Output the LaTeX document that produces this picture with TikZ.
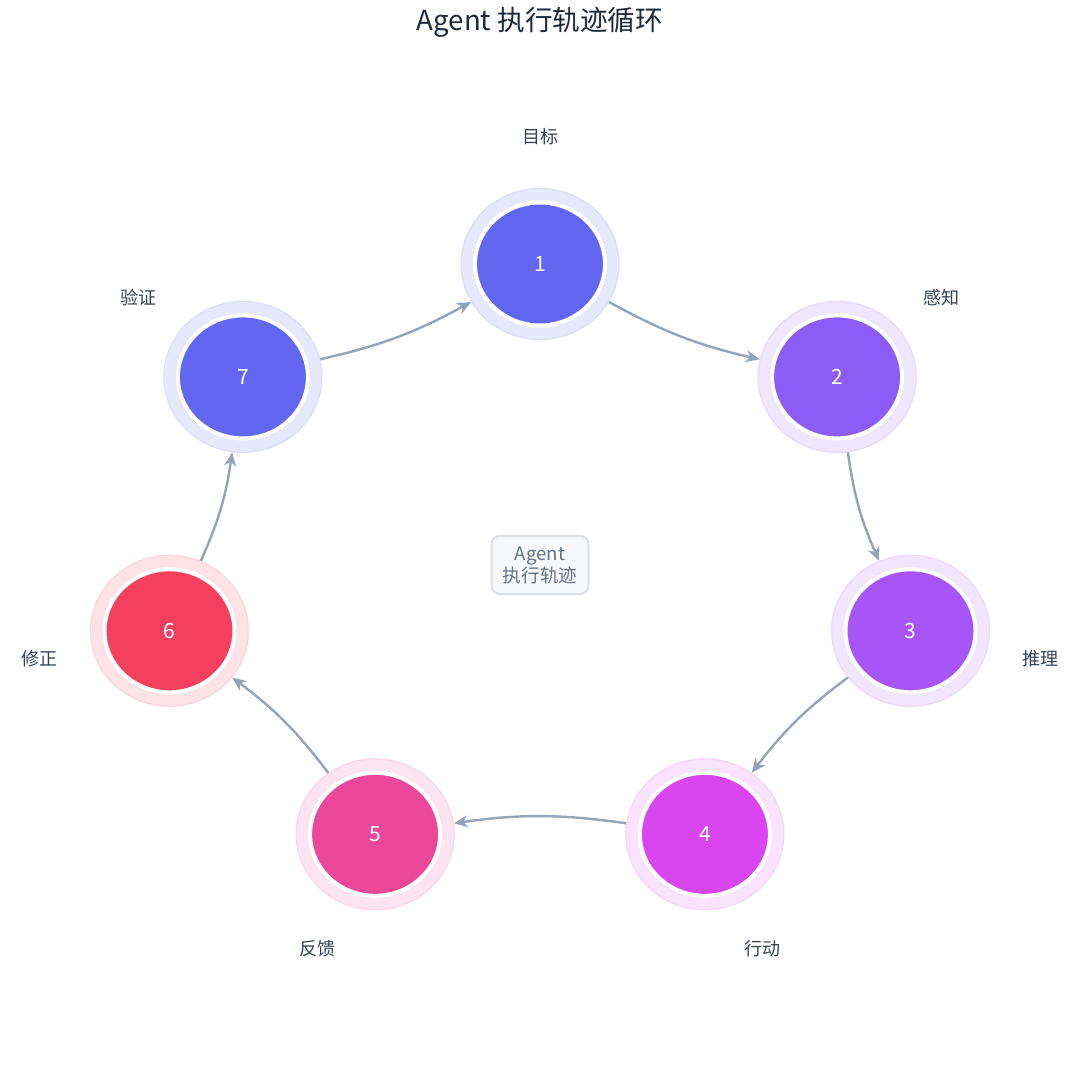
\documentclass[tikz,border=0pt]{standalone}
\usepackage{fontspec}
\setmainfont{Noto Sans CJK SC}
\usetikzlibrary{arrows.meta,shapes.geometric}
\definecolor{cIndigo}{HTML}{6366F1}
\definecolor{cViolet}{HTML}{8B5CF6}
\definecolor{cPurple}{HTML}{A855F7}
\definecolor{cFuchsia}{HTML}{D946EF}
\definecolor{cPink}{HTML}{EC4899}
\definecolor{cRose}{HTML}{F43F5E}
\definecolor{cArrow}{HTML}{94A3B8}
\definecolor{cText}{HTML}{334155}
\definecolor{cTitle}{HTML}{1E293B}
\definecolor{cCore}{HTML}{64748B}
\begin{document}
\begin{tikzpicture}
[x=0.5pt, y=-0.5pt, font=\fontsize{9}{11}\selectfont]
\tikzstyle{halo}=[ellipse, line width=0.6pt, inner sep=0pt, minimum width=79pt, minimum height=75.5pt]
\tikzstyle{stage}=[ellipse, draw=white, line width=2pt, inner sep=0pt, minimum width=65pt, minimum height=61.5pt, text=white, font=\fontsize{10.5}{12}\selectfont]
\tikzstyle{tag}=[text=cText, font=\fontsize{9}{11}\selectfont]
\tikzstyle{flow}=[draw=cArrow, line width=1.2pt, -{Stealth[length=7pt,width=6pt]}]
\useasboundingbox (0,0) rectangle (1080,1080);

\node[text=cTitle, font=\fontsize{13.8}{16}\selectfont] (T) at (540,22) {Agent 执行轨迹循环};

\node[halo, fill=cIndigo!15, draw=cIndigo!22]	(H1) at (540,264) {};
\node[halo, fill=cViolet!15, draw=cViolet!22]	(H2) at (837.1,376.9) {};
\node[halo, fill=cPurple!15, draw=cPurple!22]	(H3) at (910.5,630.8) {};
\node[halo, fill=cFuchsia!15, draw=cFuchsia!22]	(H4) at (704.9,834.3) {};
\node[halo, fill=cPink!15, draw=cPink!22]	(H5) at (375.1,834.3) {};
\node[halo, fill=cRose!15, draw=cRose!22]	(H6) at (169.5,630.8) {};
\node[halo, fill=cIndigo!15, draw=cIndigo!22]	(H7) at (242.9,376.9) {};

\node[stage, fill=cIndigo]	(N1) at (H1) {1};
\node[stage, fill=cViolet]	(N2) at (H2) {2};
\node[stage, fill=cPurple]	(N3) at (H3) {3};
\node[stage, fill=cFuchsia]	(N4) at (H4) {4};
\node[stage, fill=cPink]	(N5) at (H5) {5};
\node[stage, fill=cRose]	(N6) at (H6) {6};
\node[stage, fill=cIndigo]	(N7) at (H7) {7};

\node[tag]	(L1) at (540,137) {目标};
\node[tag]	(L2) at (941.1,297.8) {感知};
\node[tag]	(L3) at (1040.1,659) {推理};
\node[tag]	(L4) at (762.6,948.7) {行动};
\node[tag]	(L5) at (317.4,948.7) {反馈};
\node[tag]	(L6) at (39.9,659) {修正};
\node[tag]	(L7) at (138.9,297.8) {验证};

\node[draw=cCore!22, fill=cCore!5, line width=1pt, rounded corners=4pt, minimum width=48.5pt, minimum height=29pt, inner sep=1pt, align=center, text=cCore, font=\fontsize{9.3}{11}\selectfont] (C) at (540,565) {Agent\\执行轨迹};

\draw[flow]	(H1) to[bend right=8] (H2);
\draw[flow]	(H2) to[bend right=8] (H3);
\draw[flow]	(H3) to[bend right=8] (H4);
\draw[flow]	(H4) to[bend right=8] (H5);
\draw[flow]	(H5) to[bend right=8] (H6);
\draw[flow]	(H6) to[bend right=8] (H7);
\draw[flow]	(H7) to[bend right=8] (H1);

\end{tikzpicture}
\end{document}
